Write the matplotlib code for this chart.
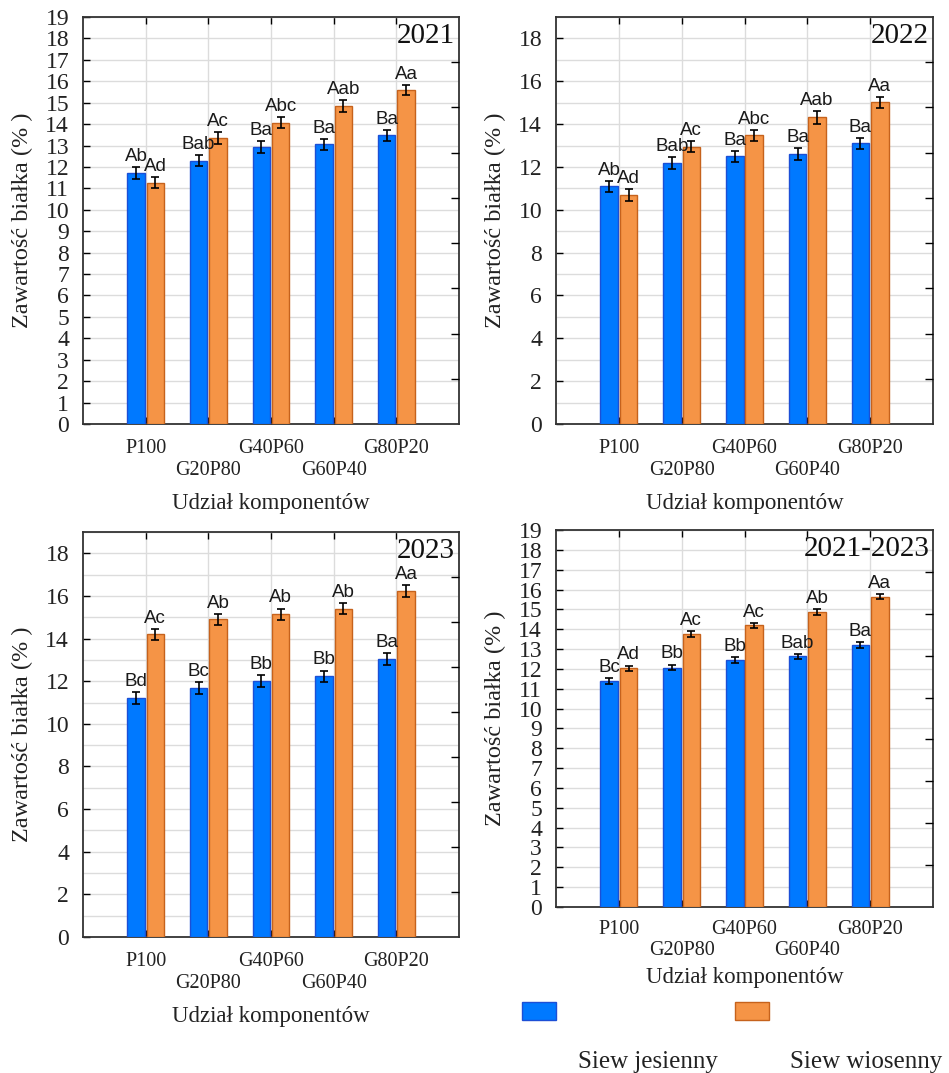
import numpy as np
import matplotlib
matplotlib.use('Agg')
import matplotlib.pyplot as plt
from matplotlib.patches import Rectangle

categories = ['P100', 'G20P80', 'G40P60', 'G60P40', 'G80P20']
series_names = ['Siew jesienny', 'Siew wiosenny']
years = ['2021', '2022', '2023', '2021-2023']

autumn = {
    '2021': [11.73, 12.30, 12.95, 13.06, 13.47],
    '2022': [11.09, 12.19, 12.49, 12.60, 13.11],
    '2023': [11.23, 11.70, 12.00, 12.23, 13.05],
    '2021-2023': [11.38, 12.07, 12.46, 12.63, 13.20],
}
spring = {
    '2021': [11.26, 13.34, 14.07, 14.84, 15.60],
    '2022': [10.70, 12.95, 13.47, 14.32, 15.01],
    '2023': [14.20, 14.91, 15.13, 15.41, 16.23],
    '2021-2023': [12.04, 13.74, 14.19, 14.88, 15.64],
}
autumn_err = {
    '2021': [0.27, 0.26, 0.28, 0.26, 0.25],
    '2022': [0.27, 0.28, 0.25, 0.29, 0.25],
    '2023': [0.28, 0.28, 0.27, 0.27, 0.28],
    '2021-2023': [0.15, 0.15, 0.14, 0.14, 0.14],
}
spring_err = {
    '2021': [0.26, 0.27, 0.26, 0.27, 0.24],
    '2022': [0.27, 0.27, 0.26, 0.30, 0.26],
    '2023': [0.25, 0.25, 0.28, 0.26, 0.29],
    '2021-2023': [0.13, 0.15, 0.13, 0.14, 0.13],
}
autumn_lbl = {
    '2021': ['Ab', 'Bab', 'Ba', 'Ba', 'Ba'],
    '2022': ['Ab', 'Bab', 'Ba', 'Ba', 'Ba'],
    '2023': ['Bd', 'Bc', 'Bb', 'Bb', 'Ba'],
    '2021-2023': ['Bc', 'Bb', 'Bb', 'Bab', 'Ba'],
}
spring_lbl = {
    '2021': ['Ad', 'Ac', 'Abc', 'Aab', 'Aa'],
    '2022': ['Ad', 'Ac', 'Abc', 'Aab', 'Aa'],
    '2023': ['Ac', 'Ab', 'Ab', 'Ab', 'Aa'],
    '2021-2023': ['Ad', 'Ac', 'Ac', 'Ab', 'Aa'],
}
y_step = {'2021': 1, '2022': 2, '2023': 2, '2021-2023': 1}

BLUE, BLUE_EDGE = '#0079ff', '#1c4fd6'
ORANGE, ORANGE_EDGE = '#f59446', '#c6621c'
SERIF = ['Liberation Serif', 'DejaVu Serif']
SANS = ['Liberation Sans', 'DejaVu Sans']

W, H = 949, 1073
fig = plt.figure(figsize=(W / 100, H / 100), dpi=100)

# axes boxes in pixels: left, top, right, bottom
boxes = {
    '2021': (83, 17, 459, 424),
    '2022': (556, 17, 933, 424),
    '2023': (83, 532, 459, 937),
    '2021-2023': (556, 530, 933, 907),
}


def draw_panel(key):
    l, t, r, b = boxes[key]
    ax = fig.add_axes([l / W, 1 - b / H, (r - l) / W, (b - t) / H])
    x = np.arange(len(categories))
    bw, off = 0.28, 0.155

    ax.bar(x - off, autumn[key], bw, color=BLUE, edgecolor=BLUE_EDGE, linewidth=1.0,
           yerr=autumn_err[key], capsize=3, error_kw=dict(elinewidth=1.2, capthick=1.2, ecolor='black'),
           zorder=3)
    ax.bar(x + off, spring[key], bw, color=ORANGE, edgecolor=ORANGE_EDGE, linewidth=1.0,
           yerr=spring_err[key], capsize=3, error_kw=dict(elinewidth=1.2, capthick=1.2, ecolor='black'),
           zorder=3)

    for xs, vals, errs, lbls in ((x - off, autumn[key], autumn_err[key], autumn_lbl[key]),
                                 (x + off, spring[key], spring_err[key], spring_lbl[key])):
        for xi, v, e, s in zip(xs, vals, errs, lbls):
            ax.annotate(s, (xi, v + e), xytext=(0, 1.5), textcoords='offset points',
                        ha='center', va='bottom', fontsize=13.5, family=SANS, color='#1a1a1a',
                        zorder=4)

    ax.set_xlim(-1, 5)
    ax.set_ylim(0, 19)
    ax.set_yticks(np.arange(0, 20, y_step[key]))
    ax.set_yticks(np.arange(0, 20, 1), minor=True)
    ax.set_xticks(x)
    ax.set_xticklabels([c if i % 2 == 0 else '\n' + c for i, c in enumerate(categories)])

    ax.grid(True, which='both', axis='y', color='#dcdcdc', linewidth=1.0, zorder=0)
    ax.grid(True, which='major', axis='x', color='#dcdcdc', linewidth=1.0, zorder=0)
    ax.set_axisbelow(True)

    last = key == '2021-2023'
    ax.tick_params(axis='y', which='major', direction='in', length=5, width=1, left=True, right=False,
                   labelsize=17, pad=10)
    ax.tick_params(axis='y', which='minor', direction='in', length=0)
    ax.tick_params(axis='x', which='major', direction='in', length=5, width=1, top=True, bottom=True,
                   labelsize=14.5, pad=9 if last else 11)
    for lab in ax.get_xticklabels() + ax.get_yticklabels():
        lab.set_family(SERIF)
        lab.set_color('#222222')
    for sp in ax.spines.values():
        sp.set_color('#333333')
        sp.set_linewidth(1.3)

    ax.set_ylabel('Zawartość białka (% )', family=SERIF, fontsize=17.5, color='#222222',
                  va='center')
    ax.yaxis.set_label_coords(-61 / (r - l), 0.5)
    ax.set_xlabel('Udział komponentów', family=SERIF, fontsize=16.5, color='#222222',
                  labelpad=5 if last else 9)
    ax.text(0.99, 0.985, key, transform=ax.transAxes, ha='right', va='top',
            family=SERIF, fontsize=21, color='#111111', zorder=5)

    # right-hand axis carries its own unlabelled tick scale
    ax2 = ax.twinx()
    ax2.set_ylim(0, 9)
    ax2.set_yticks(np.arange(1, 9))
    ax2.tick_params(axis='y', direction='in', length=6, width=1, labelright=False)
    for sp in ax2.spines.values():
        sp.set_visible(False)
    return ax


for key in years:
    draw_panel(key)

# legend below the last panel
fig.patches.append(Rectangle((522 / W, 1 - 1020 / H), 34 / W, 18 / H, transform=fig.transFigure,
                             facecolor=BLUE, edgecolor=BLUE_EDGE, linewidth=1.0))
fig.patches.append(Rectangle((735 / W, 1 - 1020 / H), 34 / W, 18 / H, transform=fig.transFigure,
                             facecolor=ORANGE, edgecolor=ORANGE_EDGE, linewidth=1.0))
fig.text(578 / W, 1 - 1062 / H, series_names[0], family=SERIF, fontsize=18, va='center',
         ha='left', color='#222222')
fig.text(790 / W, 1 - 1062 / H, series_names[1], family=SERIF, fontsize=18, va='center',
         ha='left', color='#222222')

fig.savefig('out.png', dpi=100, facecolor='white')
